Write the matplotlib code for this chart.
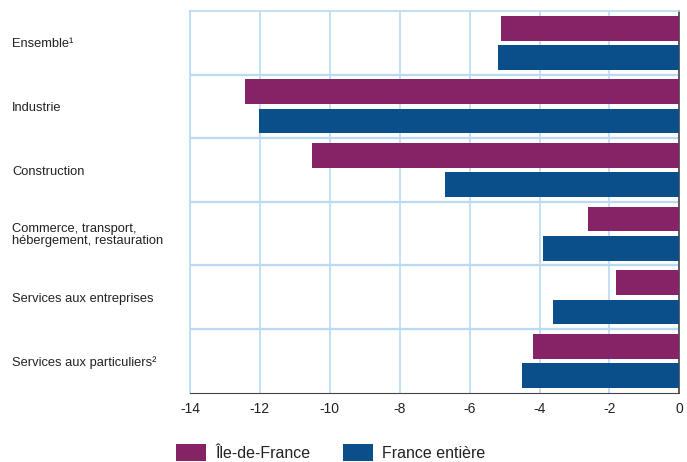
import matplotlib
matplotlib.use('Agg')
import matplotlib.pyplot as plt
import numpy as np

plt.rcParams['font.family'] = ['Liberation Sans', 'DejaVu Sans']

# data
categories = ['Ensemble¹', 'Industrie', 'Construction',
              'Commerce, transport,\nhébergement, restauration',
              'Services aux entreprises', 'Services aux particuliers²']
idf = [-5.1, -12.43, -10.5, -2.6, -1.8, -4.2]
france = [-5.2, -12.03, -6.7, -3.9, -3.6, -4.5]
series_names = ['Île-de-France', 'France entière']

PURPLE = '#862266'
BLUE = '#0a4f8a'
GRID = '#b9daf2'

fig = plt.figure(figsize=(6.87, 4.62), dpi=100)
ax = fig.add_axes([190 / 687, 1 - 392.7 / 462, (679.3 - 190) / 687, (392.7 - 11) / 462])

y = np.arange(len(categories))
h = 0.39
ax.barh(y - 0.23, idf, height=h, color=PURPLE, label=series_names[0], zorder=3)
ax.barh(y + 0.23, france, height=h, color=BLUE, label=series_names[1], zorder=3)

ax.set_xlim(-14, 0)
ax.set_ylim(len(categories) - 0.5, -0.5)
ax.set_xticks(np.arange(-14, 1, 2))
ax.set_xticklabels([str(v) for v in range(-14, 1, 2)], fontsize=10)

# vertical grid + group separators
ax.xaxis.grid(True, color=GRID, linewidth=1.2, zorder=0)
for b in np.arange(0.5, len(categories) - 0.5, 1):
    ax.axhline(b, color=GRID, linewidth=1.6, zorder=1)

ax.set_yticks(y)
ax.set_yticklabels(categories, fontsize=9.3, linespacing=1.0)
for lab in ax.get_yticklabels():
    lab.set_ha('left')
ax.tick_params(axis='y', length=0, pad=128, colors='#222222')
ax.tick_params(axis='x', length=0, pad=7, colors='#222222')

for side in ['left', 'top']:
    ax.spines[side].set_color(GRID)
    ax.spines[side].set_linewidth(1.2)
ax.spines['bottom'].set_color('#444444')
ax.spines['right'].set_color('#444444')
ax.spines['right'].set_linewidth(1.2)

fig.legend(loc='lower left', bbox_to_anchor=(175 / 687, 0.0), ncol=2,
           frameon=False, fontsize=11.5, handlelength=1.9, handleheight=1.3,
           handletextpad=0.55, columnspacing=2.05, borderpad=0.05, borderaxespad=0,
           labelcolor='#222222')

fig.savefig('out.png', dpi=100)
